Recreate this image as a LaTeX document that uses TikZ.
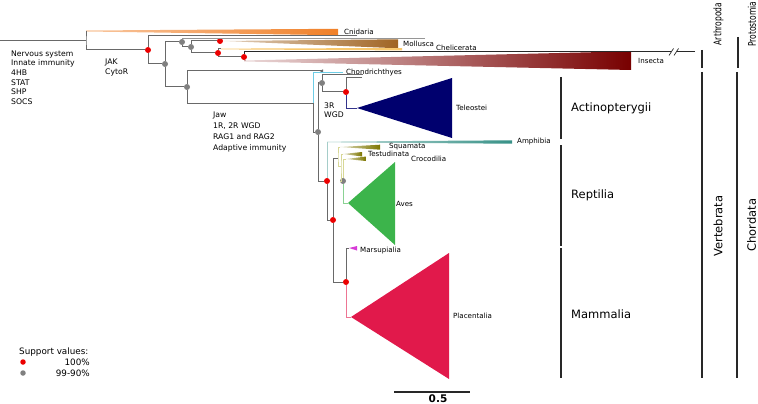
\documentclass[tikz,border=0pt]{standalone}
\usepackage{fontspec}
\setmainfont{DejaVu Sans}
\usepackage{graphicx}
\usetikzlibrary{calc}
\definecolor{ink}{RGB}{40,40,40}
\definecolor{brn}{RGB}{105,105,105}
\definecolor{brl}{RGB}{150,150,150}
\definecolor{supred}{RGB}{235,0,0}
\definecolor{supgray}{RGB}{128,128,128}
\definecolor{cCni}{RGB}{240,128,40}
\definecolor{cMol}{RGB}{160,100,35}
\definecolor{cChe}{RGB}{248,200,110}
\definecolor{cIns}{RGB}{120,0,0}
\definecolor{cChn}{RGB}{110,205,230}
\definecolor{cTel}{RGB}{0,0,110}
\definecolor{cAmp}{RGB}{55,145,135}
\definecolor{cRep}{RGB}{125,118,0}
\definecolor{cRepl}{RGB}{215,215,150}
\definecolor{cAve}{RGB}{60,180,75}
\definecolor{cMar}{RGB}{215,60,215}
\definecolor{cPla}{RGB}{225,25,75}
\tikzset{
  br/.style={draw=brn,line width=1pt},
  full/.style={circle,fill=supred,inner sep=0pt,minimum size=6pt},
  part/.style={circle,fill=supgray,inner sep=0pt,minimum size=6pt},
  lbl/.style={anchor=west,inner sep=0pt,font=\fontsize{7.1}{8}\selectfont},
  note/.style={anchor=west,inner sep=0pt,align=left},
  grp/.style={anchor=west,inner sep=0pt,font=\fontsize{11.5}{13}\selectfont},
  bar/.style={draw=ink,line width=1.1pt},
}
\newcommand{\sqz}[1]{\scalebox{0.72}[1]{#1}}

\begin{document}
\begin{tikzpicture}[x=1pt,y=-1pt,
  rot/.style={rotate=90,inner sep=0pt,font=\fontsize{10.5}{12}\selectfont},
  rotbig/.style={rotate=90,inner sep=0pt,font=\fontsize{11.5}{13}\selectfont},
  lgd/.style={anchor=west,inner sep=0pt,font=\fontsize{8.8}{10}\selectfont}]
  \useasboundingbox (0,0) rectangle (758,404);
  % internal nodes (support dots)
  \coordinate (r0) at (0,41);
  \coordinate (met) at (86,41);
  \node[full] (bil) at (148,50) {};
  \node[part] (nb)  at (165,64) {};
  \node[part] (pro) at (182,42) {};
  \node[part] (nd)  at (191,47) {};
  \node[full] (mol) at (220,41) {};
  \node[full] (art) at (218,53) {};
  \node[full] (ins) at (244,57) {};
  \node[part] (deu) at (187,87) {};
  \coordinate (ver) at (313,103);
  \node[part] (gna) at (318,132) {};
  \node[part] (ost) at (322,83) {};
  \node[full] (act) at (346,92) {};
  \node[full] (tet) at (327,181) {};
  \node[full] (amn) at (333,220) {};
  \coordinate (sau) at (338,158);
  \coordinate (arc) at (341,166);
  \node[part] (avc) at (343,181) {};
  \node[full] (mam) at (346,282) {};
  % leaf ends
  \coordinate (cni) at (86,31);
  \coordinate (l1) at (357,36);
  \coordinate (l2) at (425,38.5);
  \coordinate (che) at (221,49);
  \coordinate (lng) at (695,52);
  \coordinate (insT) at (246,61);
  \coordinate (l3) at (322,71);
  \coordinate (chT) at (343,73);
  \coordinate (l4) at (363,75);
  \coordinate (l5) at (362,78);
  \coordinate (telT) at (357,108);
  \coordinate (ampT) at (328,142);
  \coordinate (sqT) at (340,147);
  \coordinate (teT) at (343,154);
  \coordinate (crT) at (346,159);
  \coordinate (avT) at (348,203);
  \coordinate (maT) at (349,248);
  \coordinate (plT) at (351,317);
  % collapsed clades
  \shade[left color=cCni!45,right color=cCni] (86,30.5) -- (338,28.8) -- (338,35.2) -- (86,31.5) -- cycle;
  \shade[left color=cMol!30,right color=cMol] (mol) -- (398,39.3) -- (398,48.3) -- cycle;
  \fill[cChe] (221,48.6) -- (402,48) -- (402,50.4) -- (221,49.4) -- cycle;
  \shade[left color=cIns!15,right color=cIns] (244,60.5) -- (631,51.3) -- (631,70) -- (244,61.5) -- cycle;
  \fill[cTel] (telT) -- (452,78) -- (452,138) -- cycle;
  \shade[left color=cAmp!30,right color=cAmp] (327,141.6) -- (512,140.3) -- (512,143.7) -- (327,142.4) -- cycle;
  \shade[left color=cRep!25,right color=cRep] (sqT) -- (380,144.7) -- (380,149.7) -- cycle;
  \shade[left color=cRep!25,right color=cRep] (teT) -- (362,152) -- (362,156.5) -- cycle;
  \shade[left color=cRep!25,right color=cRep] (crT) -- (366,156.5) -- (366,161) -- cycle;
  \fill[cAve] (avT) -- (395,162) -- (395,245) -- cycle;
  \fill[cMar] (maT) -- (357,246) -- (357,250.5) -- cycle;
  \fill[cPla] (plT) -- (449,253) -- (449,379) -- cycle;
  \fill[brn] (319.5,71) -- (323,69.3) -- (323,72.7) -- cycle;
  % branches
  \draw[br] (r0) -- (met);
  \draw[br] (bil) -| (met) |- (cni);
  \draw[br] (l1) -| (bil) |- (nb);
  \draw[br] (pro) -| (nb) |- (deu);
  \draw[br,draw=brl] (l2) -| (pro);
  \draw[br] (pro) |- (nd);
  \draw[br] (mol) -| (nd) |- (art);
  \draw[br] (che) -| (art) |- (ins);
  \draw[br,draw=ink] (lng) -| (ins);
  \draw[br,draw=cIns!35] (ins) |- (insT);
  \draw[br] (l3) -| (deu) |- (ver);
  \draw[br,draw=cChn] (ver) |- (chT);
  \draw[br] (ver) |- (gna);
  \draw[br] (ost) -| (gna) |- (tet);
  \draw[br] (l4) -| (ost) |- (act);
  \draw[br] (l5) -| (act);
  \draw[br,draw=cTel!80] (act) |- (telT);
  \draw[br,draw=cAmp!45] (tet) |- (ampT);
  \draw[br] (tet) |- (amn);
  \draw[br] (sau) -| (amn) |- (mam);
  \draw[br,draw=cRepl] (sqT) -| (sau) |- (arc);
  \draw[br,draw=cRepl] (teT) -| (arc) |- (avc);
  \draw[br,draw=cRepl] (crT) -| (avc);
  \draw[br,draw=cAve!60] (avc) |- (avT);
  \draw[br] (maT) -| (mam);
  \draw[br,draw=cPla!60] (mam) |- (plT);
  % break on the long branch
  \fill[white] (671,50) rectangle (677,54);
  \draw[ink,line width=0.7pt] (669,55.5) -- (673.5,48.5);
  \draw[ink,line width=0.7pt] (674,55.5) -- (678.5,48.5);
  % clade labels
  \node[lbl] (tCni) at (344,32) {Cnidaria};
  \node[lbl] (tMol) at (403,44) {Mollusca};
  \node[lbl] (tChe) at (436,47.5) {Chelicerata};
  \node[lbl] (tIns) at (638,61) {Insecta};
  \node[lbl] (tChn) at (346,73) {Chondrichthyes};
  \node[lbl] (tTel) at (456,108) {Teleostei};
  \node[lbl] (tAmp) at (517,142) {Amphibia};
  \node[lbl] (tSqu) at (389,147) {Squamata};
  \node[lbl] (tTes) at (368,154) {Testudinata};
  \node[lbl] (tCro) at (411,159) {Crocodilia};
  \node[lbl] (tAve) at (396,204) {Aves};
  \node[lbl] (tMar) at (360,251) {Marsupialia};
  \node[lbl] (tPla) at (453,316) {Placentalia};
  % gained features
  \node[note,font=\fontsize{7.7}{9.7}\selectfont] (inv) at (11,77.5)
     {Nervous system\\Innate immunity\\4HB\\STAT\\SHP\\SOCS};
  \node[note,font=\fontsize{7.7}{10.4}\selectfont] (jak) at (105,67.5) {JAK\\CytoR};
  \node[note,font=\fontsize{7.7}{10.8}\selectfont] (jaw) at (213,132)
     {Jaw\\1R, 2R WGD\\RAG1 and RAG2\\Adaptive immunity};
  \node[note,font=\fontsize{7.7}{9}\selectfont] (wgd) at (324,110.5) {3R\\WGD};
  % group bars
  \draw[bar] (702,50) -- (702,68);
  \draw[bar] (738,37) -- (738,68);
  \draw[bar] (561,77) -- (561,139);
  \draw[bar] (561,145) -- (561,246);
  \draw[bar] (561,248) -- (561,378);
  \draw[bar] (702,72) -- (702,378);
  \draw[bar] (737,72) -- (737,378);
  \node[grp] (gAct) at (571,108) {Actinopterygii};
  \node[grp] (gRep) at (571,195) {Reptilia};
  \node[grp] (gMam) at (571,314) {Mammalia};
  \node[rot] (gArt) at (718.5,24) {\sqz{Arthropoda}};
  \node[rot] (gPro) at (752,24) {\sqz{Protostomia}};
  \node[rotbig] (gVer) at (718,226) {Vertebrata};
  \node[rotbig] (gCho) at (751.5,225) {Chordata};
  % legend and scale
  \node[lgd] (sv) at (19,352) {Support values:};
  \node[full,minimum size=5.5pt] (k100) at (23,362) {};
  \node[lgd,anchor=east] (t100) at (90,362) {100\%};
  \node[part,minimum size=5.5pt] (k90) at (23,373) {};
  \node[lgd,anchor=east] (t90) at (90,373) {99-90\%};
  \coordinate (s0) at (394,392);
  \coordinate (s1) at (470,392);
  \draw[ink,line width=1.1pt] (s0) -- (s1);
  \node[inner sep=0pt,font=\bfseries\fontsize{10.5}{12}\selectfont] (sl) at (438,399) {0.5};
\end{tikzpicture}
\end{document}
